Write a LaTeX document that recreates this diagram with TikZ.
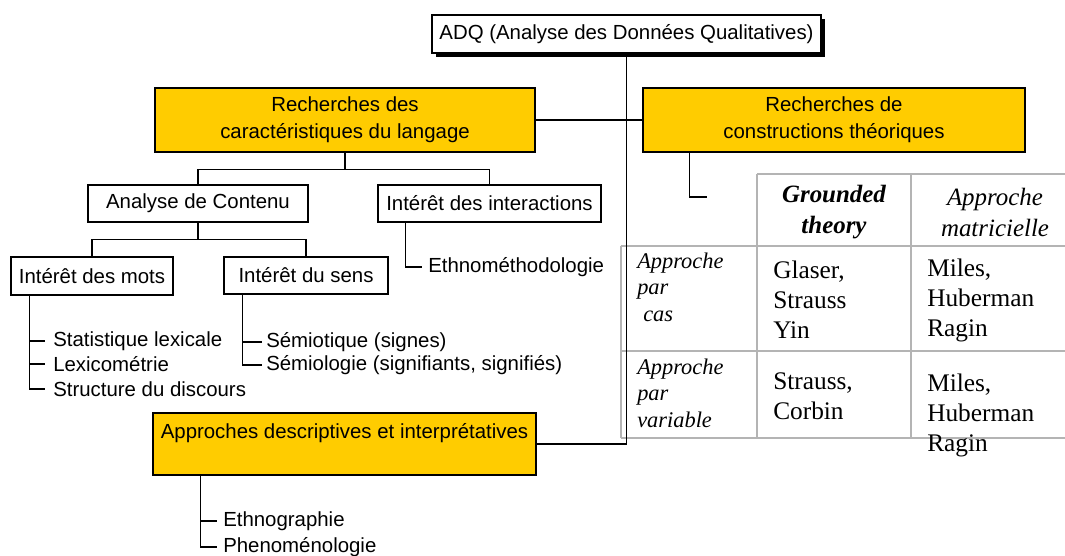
\documentclass[tikz,border=0pt]{standalone}
\usepackage{fontspec}
\setmainfont{Liberation Sans}
\newfontfamily\tserif{Liberation Serif}
\usetikzlibrary{shadows,calc}
\definecolor{gold}{HTML}{FFCC00}
\definecolor{tgrey}{HTML}{B4B4B4}
\begin{document}
\begin{tikzpicture}[x=0.75pt,y=-0.75pt,
  box/.style={draw=black,line width=0.9pt,inner sep=0pt,align=center,font=\fontsize{15.3}{20}\selectfont},
  ybox/.style={box,fill=gold},
  conn/.style={draw=black,line width=0.9pt},
  lst/.style={anchor=west,inner sep=0pt,font=\fontsize{15.3}{18}\selectfont},
  tline/.style={draw=tgrey,line width=1.1pt},
  cell/.style={anchor=west,inner sep=0pt,align=left,font=\tserif\fontsize{19}{22.5}\selectfont},
  rhead/.style={anchor=west,inner sep=0pt,align=left,font=\tserif\itshape\fontsize{16.8}{19.9}\selectfont},
  chead/.style={inner sep=0pt,align=center,font=\tserif\itshape\fontsize{18.7}{23.25}\selectfont}
]
\useasboundingbox (0,0) rectangle (1065,556);
\fill[white] (0,0) rectangle (1065,556);

% table grid
\draw[tline] (757,174) -- (1065,174);
\draw[tline] (757,174) -- (757,438);
\draw[tline] (911,174) -- (911,438);
\draw[tline] (621,246) -- (1065,246);
\draw[tline] (621,351) -- (1065,351);
\draw[tline] (621,438) -- (1065,438);
\draw[tline] (621,246) -- (621,438);

% boxes
\node[box,fill=white,minimum width=291.75pt,minimum height=28.5pt,
  drop shadow={shadow xshift=3pt,shadow yshift=-3pt,fill=black,opacity=1}] (adq) at (626.5,34) {ADQ (Analyse des Données Qualitatives)};
\node[ybox,minimum width=285pt,minimum height=48pt] (lang) at (345,120) {Recherches des\\caractéristiques du langage};
\node[ybox,minimum width=286.5pt,minimum height=48pt] (constr) at (834,120) {Recherches de\\constructions théoriques};
\node[box,minimum width=165pt,minimum height=27.75pt] (contenu) at (198,203.5) {Analyse de Contenu};
\node[box,minimum width=167.25pt,minimum height=27.75pt] (inter) at (489.5,203.5) {Intérêt des interactions};
\node[box,minimum width=121.5pt,minimum height=28.5pt] (mots) at (92,276) {Intérêt des mots};
\node[box,minimum width=123pt,minimum height=27.75pt] (sens) at (306,275.5) {Intérêt du sens};
\node[ybox,minimum width=287.25pt,minimum height=46.5pt] (appr) at (344.5,444) {Approches descriptives et interprétatives\\\phantom{A}};

% list texts
\node[lst] (ethno) at (428,267) {Ethnométhodologie};
\node[lst] (stat) at (53,341) {Statistique lexicale};
\node[lst] (lexi) at (53,364) {Lexicométrie};
\node[lst] (struc) at (53,389) {Structure du discours};
\node[lst] (semiot) at (266,342) {Sémiotique (signes)};
\node[lst] (semiol) at (266,365) {Sémiologie (signifiants, signifiés)};
\node[lst] (ethnog) at (223,521) {Ethnographie};
\node[lst] (pheno) at (223,547) {Phenoménologie};

% connectors
\draw[conn] (adq.south) -- (adq.south |- appr.east) -- (appr.east);
\draw[conn] (lang.east) -- (constr.west);
\draw[conn] (lang.south) -- ++(0,17) coordinate (lj) -| (contenu.north);
\draw[conn] (lj) -| (inter.north);
\draw[conn] (contenu.south) -- ++(0,17) coordinate (cj) -| (mots.north);
\draw[conn] (cj) -| (sens.north);
\draw[conn] ($(inter.south west)+(28,0)$) |- ([xshift=-4.5pt]ethno.west);
\draw[conn] ($(mots.south west)+(19,0)$) coordinate (mv) |- ([xshift=-6pt]struc.west);
\draw[conn] (mv |- stat.west) -- ([xshift=-6pt]stat.west);
\draw[conn] (mv |- lexi.west) -- ([xshift=-6pt]lexi.west);
\draw[conn] ($(sens.south west)+(19,0)$) coordinate (sv) |- ([xshift=-3pt]semiol.west);
\draw[conn] (sv |- semiot.west) -- ([xshift=-3pt]semiot.west);
\draw[conn] ($(appr.south west)+(48,0)$) coordinate (av) |- ([xshift=-4.5pt]pheno.west);
\draw[conn] (av |- ethnog.west) -- ([xshift=-4.5pt]ethnog.west);
\coordinate (tcorner) at (707,197);
\draw[conn] ($(constr.south west)+(47,0)$) |- (tcorner);

% table texts
\node[chead,font=\tserif\bfseries\itshape\fontsize{18.7}{23.25}\selectfont] (gt) at (834,212.5) {Grounded\\theory};
\node[chead] (am) at (995,212.5) {Approche\\matricielle};
\node[rhead] (r1) at (637,287) {Approche\\par\\\hspace*{4.5pt}cas};
\node[rhead] (r2) at (637,393) {Approche\\par\\variable};
\node[cell] (c11) at (773,300) {Glaser,\\Strauss\\Yin};
\node[cell] (c12) at (927,300) {Miles,\\Huberman\\Ragin};
\node[cell] (c21) at (773,396) {Strauss,\\Corbin};
\node[cell] (c22) at (927,415.5) {Miles,\\Huberman\\Ragin};
\end{tikzpicture}
\end{document}
